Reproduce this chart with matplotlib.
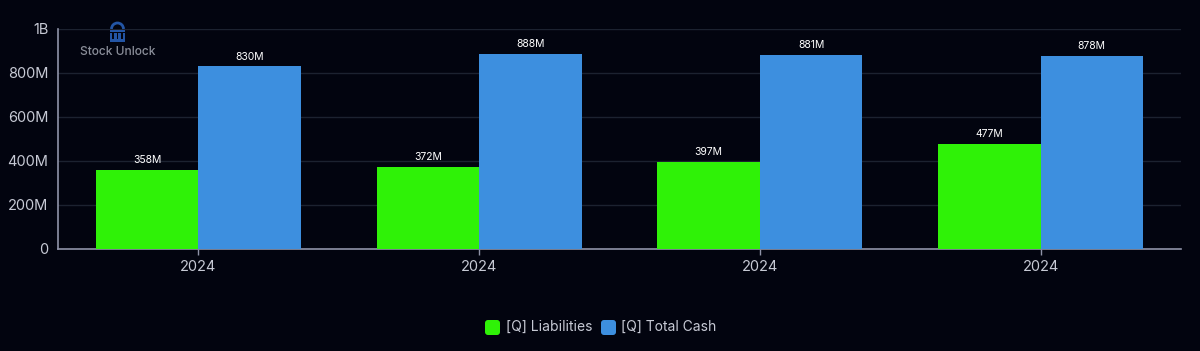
import matplotlib
matplotlib.use('Agg')
import matplotlib.pyplot as plt
from matplotlib.patches import FancyBboxPatch, Rectangle, Arc

W, H = 1200, 351

categories = ['2024', '2024', '2024', '2024']
liabilities = [358, 372, 397, 477]
total_cash = [830, 888, 881, 878]
liabilities_labels = ['358M', '372M', '397M', '477M']
cash_labels = ['830M', '888M', '881M', '878M']
y_ticks = [0, 200, 400, 600, 800, 1000]
y_labels = ['0', '200M', '400M', '600M', '800M', '1B']

BG = '#02040f'
GREEN = '#2ff207'
BLUE = '#3d8fdf'
AXIS = '#8f93a8'
GRID = '#1c2230'
TICK = '#c6c9d4'

plt.rcParams['font.family'] = ['Inter', 'DejaVu Sans']

fig = plt.figure(figsize=(W / 100, H / 100), dpi=100, facecolor=BG)
ax = fig.add_axes([58 / W, 1 - 249 / H, (1181 - 58) / W, (249 - 29) / H], facecolor=BG)

# Столбцы
bar_w = 0.365
x = list(range(len(categories)))
x_left = [i - bar_w / 2 for i in x]
x_right = [i + bar_w / 2 for i in x]
ax.bar(x_left, liabilities, bar_w, color=GREEN, zorder=3)
ax.bar(x_right, total_cash, bar_w, color=BLUE, zorder=3)

for xp, v, s in zip(x_left, liabilities, liabilities_labels):
    ax.annotate(s, (xp, v), xytext=(0, 3.5), textcoords='offset points', ha='center', va='bottom',
                color='white', fontsize=7.5, zorder=4)
for xp, v, s in zip(x_right, total_cash, cash_labels):
    ax.annotate(s, (xp, v), xytext=(0, 3.5), textcoords='offset points', ha='center', va='bottom',
                color='white', fontsize=7.5, zorder=4)

# Оси
ax.set_xlim(-0.5, 3.5)
ax.set_ylim(0, 1000)
ax.set_xticks(x, categories)
ax.set_yticks(y_ticks, y_labels)
ax.grid(axis='y', color=GRID, linewidth=1, zorder=0)
ax.tick_params(axis='x', colors=TICK, labelsize=10.5, length=4, width=1, color=AXIS, pad=4)
ax.tick_params(axis='y', colors=TICK, labelsize=10.5, length=0, pad=7)
for side in ['top', 'right']:
    ax.spines[side].set_visible(False)
for side in ['left', 'bottom']:
    ax.spines[side].set_color(AXIS)
    ax.spines[side].set_linewidth(1.2)

# Логотип (координаты в пикселях рисунка)
over = fig.add_axes([0, 0, 1, 1], facecolor='none')
over.set_xlim(0, W)
over.set_ylim(H, 0)
over.axis('off')
LOGO = '#2355a5'
over.add_patch(Arc((117.5, 29), 12, 12, theta1=180, theta2=360, color=LOGO, linewidth=2))
over.add_patch(Rectangle((110, 30), 15, 2, facecolor=LOGO, edgecolor='none'))
for px in [110, 114.2, 118.4, 122.6]:
    over.add_patch(Rectangle((px, 33), 2.4, 6, facecolor=LOGO, edgecolor='none'))
over.add_patch(Rectangle((110, 39), 15, 2.5, facecolor=LOGO, edgecolor='none'))
over.text(117.5, 52, 'Stock Unlock', color='#8a8e99', fontsize=8.6, fontweight='medium', ha='center', va='center')

# Легенда
for px, color in [(485, GREEN), (601, BLUE)]:
    over.add_patch(FancyBboxPatch((px + 3, 323), 9, 9, boxstyle='round,pad=3,rounding_size=3',
                                  facecolor=color, edgecolor='none'))
over.text(506, 327, '[Q] Liabilities', color=TICK, fontsize=10, ha='left', va='center')
over.text(621, 327, '[Q] Total Cash', color=TICK, fontsize=10, ha='left', va='center')

fig.savefig('out.png', dpi=100, facecolor=BG)
